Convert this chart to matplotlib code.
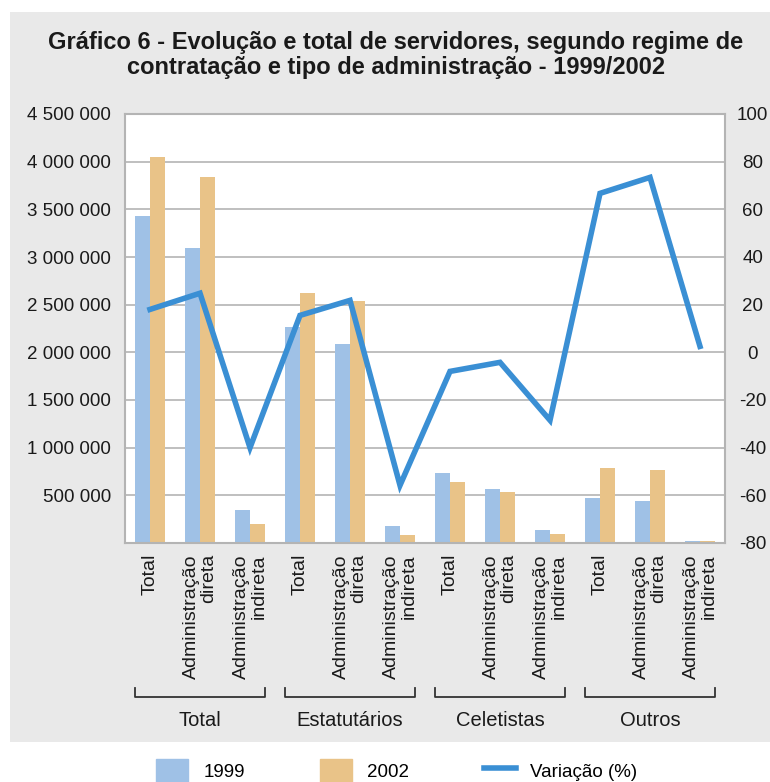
import matplotlib
matplotlib.use("Agg")
import matplotlib.pyplot as plt
from matplotlib.patches import Rectangle
from matplotlib.lines import Line2D
from matplotlib.ticker import FuncFormatter
from matplotlib.transforms import blended_transform_factory

plt.rcParams["font.family"] = ["Liberation Sans", "DejaVu Sans"]
plt.rcParams["axes.unicode_minus"] = False

# data
groups = ["Total", "Estatutários", "Celetistas", "Outros"]
subcats = ["Total", "Administração\ndireta", "Administração\nindireta"]
serv_1999 = [3430000, 3094000, 346000,
             2266000, 2087000, 178000,
             734000, 566000, 136000,
             470000, 440000, 25000]
serv_2002 = [4050000, 3840000, 200000,
             2620000, 2540000, 84000,
             640000, 535000, 94000,
             787000, 766000, 22000]
variacao = [18.0, 24.8, -40.0,
            15.5, 21.8, -55.8,
            -8.0, -4.2, -28.5,
            66.7, 73.4, 2.5]
left_ticks = list(range(0, 4500001, 500000))
right_ticks = list(range(-80, 101, 20))

C1999 = "#9fc1e6"
C2002 = "#e9c388"
CLINE = "#3a8fd4"
GRID = "#b4b4b4"
BG = "#e9e9e9"
TXT = "#1a1a1a"

W, H = 770, 782
fig = plt.figure(figsize=(W / 100, H / 100), dpi=100, facecolor="white")
fig.patches.append(Rectangle((10 / W, 1 - 742 / H), 760 / W, 730 / H,
                             transform=fig.transFigure, facecolor=BG,
                             edgecolor="none", zorder=-10))

ax = fig.add_axes([125 / W, 1 - 543 / H, 600 / W, 429 / H])
ax.set_facecolor("white")
x = list(range(len(serv_1999)))
bw = 0.3
ax.bar([i - bw / 2 for i in x], serv_1999, width=bw, color=C1999, zorder=2)
ax.bar([i + bw / 2 for i in x], serv_2002, width=bw, color=C2002, zorder=2)
ax.set_xlim(-0.5, len(x) - 0.5)
ax.set_ylim(0, 4500000)
ax.set_yticks(left_ticks)
ax.yaxis.set_major_formatter(FuncFormatter(
    lambda v, p: "" if v == 0 else f"{v:,.0f}".replace(",", " ")))
ax.grid(axis="y", color=GRID, lw=1.2, zorder=0)
ax.set_axisbelow(True)
for s in ax.spines.values():
    s.set_color(GRID)
    s.set_linewidth(1.5)
ax.tick_params(axis="y", length=0, pad=10, labelsize=13.5, labelcolor=TXT)
ax.set_xticks(x)
ax.set_xticklabels(subcats * len(groups), rotation=90, va="top", ha="center",
                   multialignment="right", fontsize=14, color=TXT,
                   linespacing=1.05)
ax.tick_params(axis="x", length=0, pad=8)

ax2 = ax.twinx()
ax2.plot(x, variacao, color=CLINE, lw=4, solid_joinstyle="miter", zorder=3)
ax2.set_ylim(-80, 100)
ax2.set_yticks(right_ticks)
ax2.set_yticklabels([str(t) for t in right_ticks], ha="center")
ax2.tick_params(axis="y", length=0, pad=20, labelsize=13.5, labelcolor=TXT)
for s in ax2.spines.values():
    s.set_visible(False)

# group brackets under the category labels
tr = blended_transform_factory(ax.transData, fig.transFigure)
y_line, y_tick, y_lab = 1 - 697 / H, 1 - 688 / H, 1 - 721 / H
for g, name in enumerate(groups):
    x0, x1 = 3 * g - 0.3, 3 * g + 2.3
    ax.add_line(Line2D([x0, x0, x1, x1], [y_tick, y_line, y_line, y_tick],
                       transform=tr, color="#333333", lw=1.3, clip_on=False))
    ax.text((x0 + x1) / 2, y_lab, name, transform=tr, ha="center", va="center",
            fontsize=14.5, color=TXT)

fig.text(396 / W, 1 - 55 / H,
         "Gráfico 6 - Evolução e total de servidores, segundo regime de\n"
         "contratação e tipo de administração - 1999/2002",
         ha="center", va="center", fontsize=17, fontweight="bold",
         linespacing=1.12, color=TXT)

handles = [Rectangle((0, 0), 1, 1, color=C1999),
           Rectangle((0, 0), 1, 1, color=C2002),
           Line2D([0], [0], color=CLINE, lw=4)]
fig.legend(handles, ["1999", "2002", "Variação (%)"], loc="center",
           bbox_to_anchor=(397 / W, 1 - 771 / H), ncol=3, frameon=False,
           fontsize=13.5, handlelength=1.7, handleheight=1.6,
           handletextpad=0.8, columnspacing=4.0, borderpad=0)

fig.savefig("out.png", dpi=100, facecolor="white")
